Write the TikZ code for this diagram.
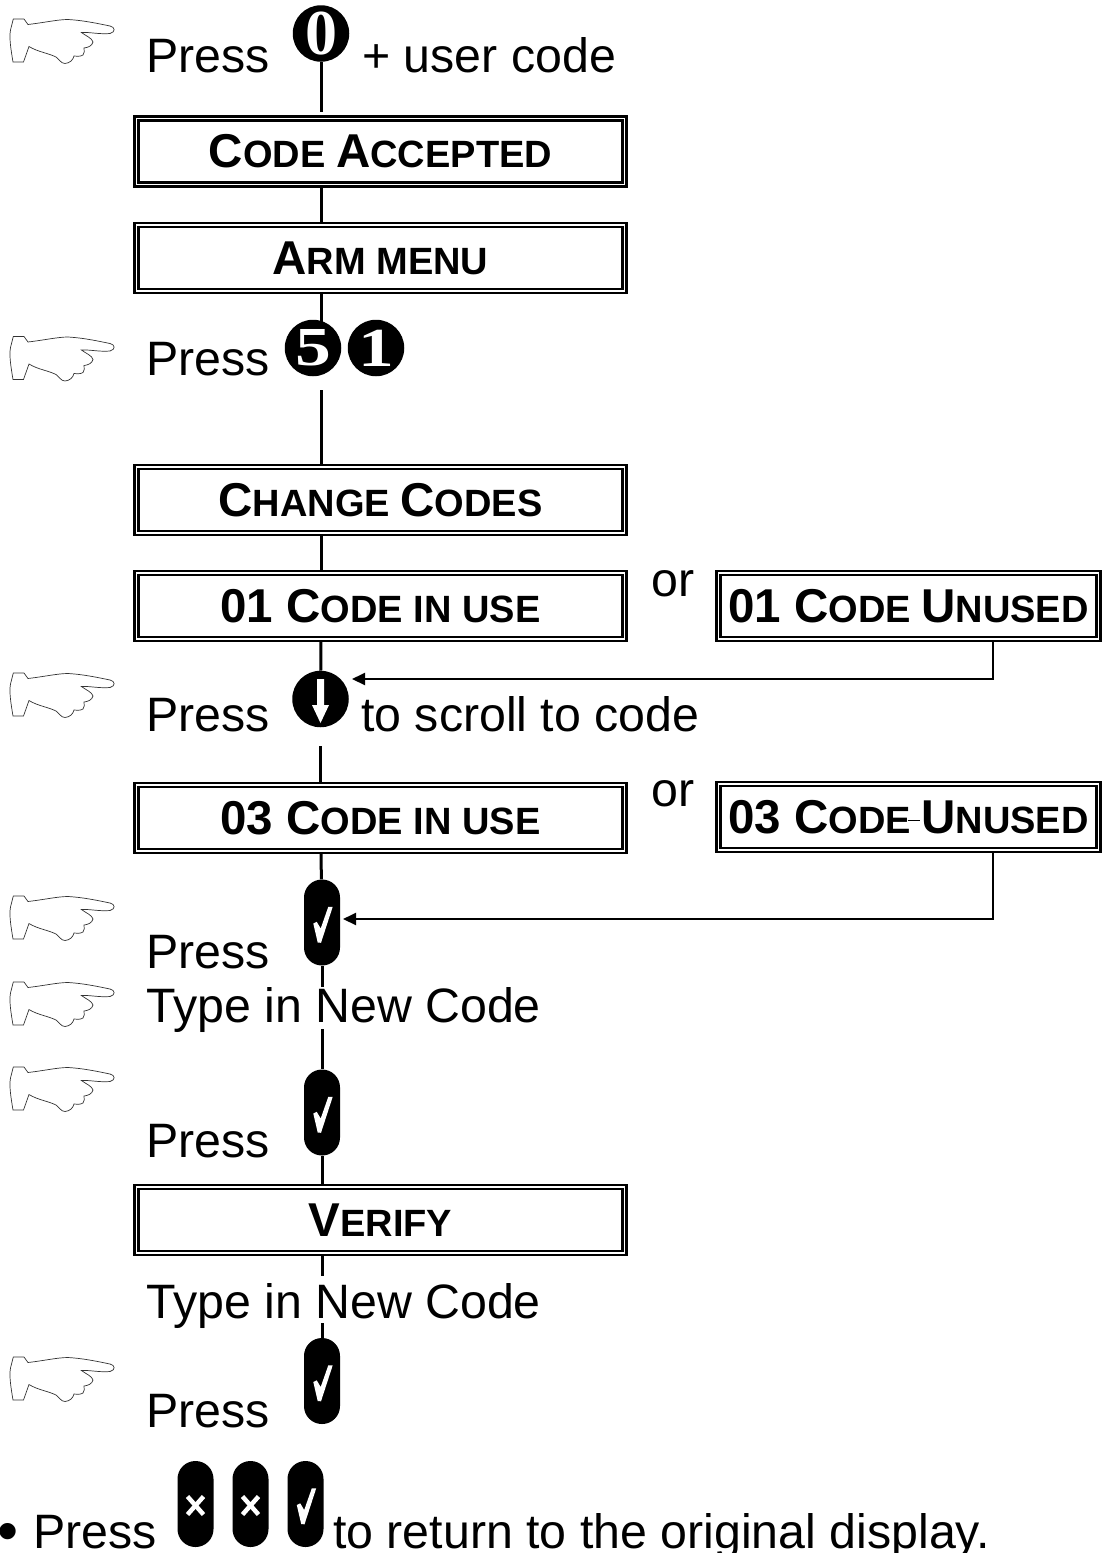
\documentclass[tikz,border=0pt]{standalone}
\usepackage{fontspec}
\setmainfont{Liberation Sans}
\newfontfamily\keyfont{Liberation Serif}
\usetikzlibrary{arrows.meta,backgrounds}
\newcommand{\capital}[1]{{\fontsize{47.5}{50}\selectfont #1}}
\newcommand{\widedigit}[1]{\scalebox{1.3}[1]{#1}}
\tikzset{
  flow/.style={line width=3pt},
  backline/.style={line width=2pt,-{Triangle[length=13pt,width=12pt]}},
  display/.style={draw,double,line width=2.4pt,double distance=1.8pt,minimum width=488pt,minimum height=66pt,
    inner sep=0pt,font=\fontsize{38}{40}\selectfont\bfseries},
  sidedisplay/.style={display,minimum width=380pt},
  label/.style={inner sep=0pt,anchor=base west,font=\fontsize{48.3}{50}\selectfont},
  roundkey/.style={circle,fill=black,text=white,inner sep=0pt,minimum size=56.5pt},
  capkey/.style={fill=black,rounded corners=17.9pt,inner sep=0pt,minimum width=36pt,minimum height=86pt},
  okkey/.style={capkey,path picture={
    \fill[white,sharp corners,shift={(path picture bounding box.center)}] (-8.7,1) -- (-5.3,-0.7) -- (-1.3,6) -- (6.3,-15.7)
      -- (10.7,-15.7) -- (-1,20.3) -- (-4.3,20) -- cycle;}},
  cancelkey/.style={capkey,path picture={
    \draw[white,sharp corners,line width=4.5pt,shift={(path picture bounding box.center)}]
      (-8,-7.5) -- (8,10.5) (8,-7.5) -- (-8,10.5);}},
  pointer/.pic={
    \draw[line width=0.7pt,draw=black!80] (13.3,19) -- (24,19) -- (28,24.5) .. controls (45,22.5) and (58,19.5) .. (68,19.5)
      .. controls (85,20.5) and (100,24) .. (110,26) .. controls (115,27) and (116,32) .. (110,33.5)
      .. controls (100,34.5) and (90,32) .. (81.5,32.5) .. controls (86,36) and (92,38) .. (93,42)
      .. controls (92,46) and (88,47.5) .. (84,48) .. controls (85,51) and (84,53) .. (83,55)
      .. controls (80,57) and (76,56) .. (74,56) .. controls (73,60) and (70,63) .. (65,63.5)
      .. controls (61,63.5) and (59,59) .. (56,57) .. controls (48,53) and (38,52) .. (29,46.5)
      -- (23.5,62) -- (13,62) .. controls (11,50) and (9,38) .. (10.5,30) -- cycle;
  }
}
\begin{document}
\begin{tikzpicture}[x=1pt,y=-1pt]
  \useasboundingbox (0,0) rectangle (1103,1553);
  \foreach \y in {0,317.5,654,877,963,1048,1338} {
    \pic at (0,\y) {pointer};
  }
  % displays
  \node[display] (accepted) at (380.5,151.5) {\capital{C}ODE \capital{A}CCEPTED};
  \node[display] (armmenu) at (380.5,258) {\capital{A}RM MENU};
  \node[display] (change) at (380.5,500) {\capital{C}HANGE \capital{C}ODES};
  \node[display] (inuseone) at (380.5,606) {\capital{01 C}ODE IN USE};
  \node[display] (inusetwo) at (380.5,818) {\capital{03 C}ODE IN USE};
  \node[display] (verify) at (380.5,1220) {\capital{V}ERIFY};
  \node[sidedisplay] (unusedone) at (908.5,606) {\capital{01 C}ODE \capital{U}NUSED};
  \node[sidedisplay] (unusedtwo) at (908.5,817) {\capital{03 C}ODE \capital{U}NUSED};
  \node[label] (orone) at (651,596) {or};
  \node[label] (ortwo) at (651,806) {or};
  % keys
  \node[roundkey,font=\fontsize{64}{64}\selectfont\keyfont\bfseries] (keyzero) at (321,33.5) {0};
  \node[roundkey,font=\fontsize{55}{55}\selectfont\keyfont\bfseries] (keyfive) at (313,348) {\widedigit{5}};
  \node[roundkey,font=\fontsize{55}{55}\selectfont\keyfont\bfseries] (keyone) at (376,348) {\widedigit{1}};
  \node[roundkey] (keydown) at (320.5,699) {};
  \fill[white] ([shift={(-3.5,-20)}]keydown.center) -- ++(7,0) -- ++(0,26) -- ++(5,0) -- ++(-8.5,18) -- ++(-8.5,-18) -- ++(5,0) -- cycle;
  \node[okkey] (checkone) at (322,922.5) {};
  \node[okkey] (checktwo) at (322,1112.5) {};
  \node[okkey] (checkthree) at (322,1381) {};
  \node[cancelkey] (cancelone) at (195.5,1504) {};
  \node[cancelkey] (canceltwo) at (250.5,1504) {};
  \node[okkey] (checkfour) at (305.5,1504) {};
  % labels
  \node[label] (pressa) at (146,72) {Press};
  \node[label] (usercode) at (362,72) {+ user code};
  \node[label] (pressb) at (146,375) {Press};
  \node[label] (pressc) at (146,731) {Press};
  \node[label] (scroll) at (361,731) {to scroll to code};
  \node[label] (pressd) at (146,968) {Press};
  \node[label,fill=white,text height=35pt,text depth=7pt] (typea) at (146,1022) {Type in New Code};
  \node[label] (presse) at (146,1157) {Press};
  \node[label,fill=white,text height=43pt,text depth=4pt] (typeb) at (146,1318.5) {Type in New Code};
  \node[label] (pressf) at (146,1427) {Press};
  \node[label] (pressg) at (-3,1548) {\raisebox{-3pt}{\fontsize{60}{60}\selectfont\textbullet}\hspace{15pt}Press};
  \node[label] (back) at (333,1548) {to return to the original display.};
  % connectors
  \coordinate (backone) at (352,679);
  \coordinate (backtwo) at (343,919);
  \begin{scope}[on background layer]
    \draw[flow,shorten >=5pt] (keyzero) -- (accepted.north -| keyzero);
    \draw[flow] (accepted.south -| keyzero) -- (armmenu.north -| keyzero);
    \draw[flow] (armmenu.south -| keyzero) -- (keyfive.center -| keyzero);
    \draw[flow,shorten <=14pt] (keyfive.south -| keyzero) -- (change.north -| keyzero);
    \draw[flow] (change.south -| keyzero) -- (inuseone.north -| keyzero);
    \draw[flow] (inuseone.south -| keyzero) -- (keydown);
    \draw[flow,shorten <=19pt] (keydown.south) -- (inusetwo.north -| keydown);
    \draw[flow] (inusetwo.south -| keyzero) -- (checkone);
    \draw[flow] (checkone) -- (checktwo);
    \draw[flow] (checktwo) -- (verify.north -| checktwo);
    \draw[flow,shorten <=2pt] (verify.south -| checktwo) -- (checkthree);
  \end{scope}
  \draw[backline] ([xshift=84pt]unusedone.south) |- (backone);
  \draw[backline] ([xshift=84pt]unusedtwo.south) |- (backtwo);
  \draw[line width=1pt] ([xshift=-1pt,yshift=-3pt]unusedtwo.center) -- ++(12,0);
\end{tikzpicture}
\end{document}
